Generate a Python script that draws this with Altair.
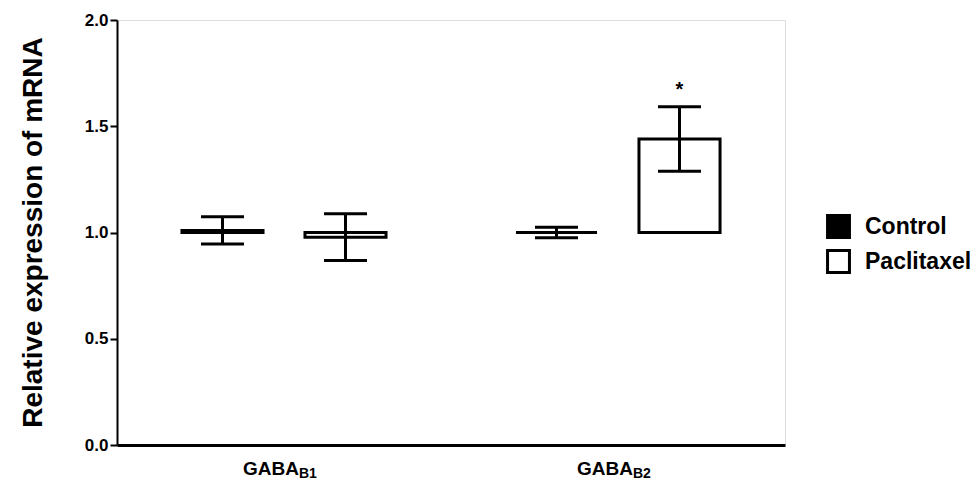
import altair as alt
import pandas as pd

# ---- data ----
genes = ["GABA_B1", "GABA_B1", "GABA_B2", "GABA_B2"]
groups = ["Control", "Paclitaxel", "Control", "Paclitaxel"]
means = [1.01, 0.978, 1.00, 1.44]
sems = [0.064, 0.11, 0.025, 0.152]
sig = ["", "", "", "*"]
baseline = 1.0

label_keys = ["GABA_B1", "GABA_B2"]
label_main = ["GABA", "GABA"]
label_sub = ["B1", "B2"]

y_ticks = [0.0, 0.5, 1.0, 1.5, 2.0]

df = pd.DataFrame({"gene": genes, "group": groups, "mean": means, "sem": sems, "sig": sig})
df["lo"] = df["mean"] - df["sem"]
df["hi"] = df["mean"] + df["sem"]
df["base"] = baseline

lab = pd.DataFrame({"gene": label_keys, "main": label_main, "sub": label_sub})

FONT = "Liberation Sans"

x_enc = alt.X(
    "gene:N",
    sort=label_keys,
    scale=alt.Scale(paddingInner=0, paddingOuter=0),
    axis=alt.Axis(labels=False, ticks=False, title=None, domainWidth=3,
                  domainColor="black", domainCap="butt"),
)
xo_enc = alt.XOffset(
    "group:N",
    sort=["Control", "Paclitaxel"],
    scale=alt.Scale(paddingInner=0.341, paddingOuter=0.528),
)
y_scale = alt.Scale(domain=[0, 2], nice=False, zero=True)
y_axis = alt.Axis(
    values=y_ticks, format=".1f", title="Relative expression of mRNA",
    grid=False, domainWidth=2, domainColor="black", tickColor="black",
    tickWidth=2, tickSize=7, labelFontSize=17, labelFontWeight="bold",
    labelColor="black", labelPadding=2, titleFontSize=28, titleFontWeight="bold",
    titleColor="black", titleAngle=270, titleX=-84, titleY=212,
    titleAlign="center", titleBaseline="middle",
)


def Y(field):
    return alt.Y(field, scale=y_scale, axis=y_axis)


bars = alt.Chart(df).mark_bar(stroke="black", strokeWidth=3).encode(
    x=x_enc,
    xOffset=xo_enc,
    y=Y("mean:Q"),
    y2=alt.Y2("base:Q"),
    fill=alt.Fill(
        "group:N",
        scale=alt.Scale(domain=["Control", "Paclitaxel"], range=["black", "white"]),
        legend=alt.Legend(
            title=None, orient="none", legendX=709, legendY=194,
            symbolType="square", symbolSize=480, symbolStrokeColor="black",
            symbolStrokeWidth=3, labelFontSize=23, labelFontWeight="bold",
            labelColor="black", labelFont=FONT, rowPadding=0, labelOffset=14,
            padding=0,
        ),
    ),
)

err = alt.Chart(df).mark_rule(color="black", strokeWidth=3, opacity=1).encode(
    x=x_enc, xOffset=xo_enc, y=Y("lo:Q"), y2=alt.Y2("hi:Q")
)
cap_hi = alt.Chart(df).mark_tick(orient="horizontal", size=43, thickness=3,
                                 color="black", opacity=1).encode(
    x=x_enc, xOffset=xo_enc, y=Y("hi:Q")
)
cap_lo = alt.Chart(df).mark_tick(orient="horizontal", size=43, thickness=3,
                                 color="black", opacity=1).encode(
    x=x_enc, xOffset=xo_enc, y=Y("lo:Q")
)
star = alt.Chart(df).mark_text(fontSize=20, fontWeight="bold", font=FONT, color="black",
                               baseline="alphabetic", dy=-11).encode(
    x=x_enc, xOffset=xo_enc, y=Y("hi:Q"), text="sig:N"
)

lab_main = alt.Chart(lab).mark_text(fontSize=19, fontWeight="bold", font=FONT, color="black",
                                    align="right", baseline="alphabetic", dx=15).encode(
    x=x_enc, y=alt.value(455), text="main:N"
)
lab_sub = alt.Chart(lab).mark_text(fontSize=14, fontWeight="bold", font=FONT, color="black",
                                   align="left", baseline="alphabetic", dx=15).encode(
    x=x_enc, y=alt.value(458), text="sub:N"
)

chart = alt.layer(bars, err, cap_hi, cap_lo, star, lab_main, lab_sub).properties(
    width=668, height=425,
    padding={"left": 109, "top": 12, "right": 186, "bottom": 36},
    autosize=alt.AutoSizeParams(type="none"),
).configure_view(stroke=None).configure(font=FONT, background="white")

chart.save("out.html", embed_options={"renderer": "svg", "actions": False})
